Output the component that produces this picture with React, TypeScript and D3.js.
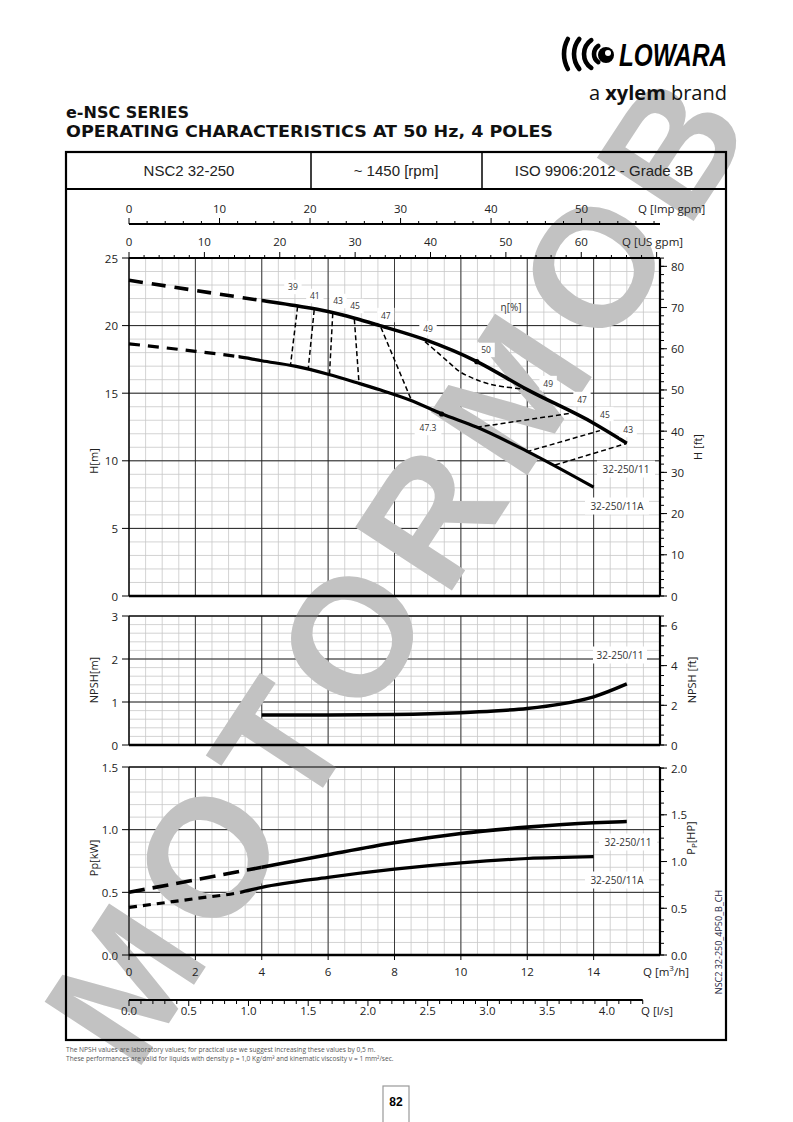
import React from "react";
import * as d3 from "d3";

// ---------------- data ----------------
const impGpmTicks = [0, 10, 20, 30, 40, 50];
const usGpmTicks = [0, 10, 20, 30, 40, 50, 60];
const m3hTicks = [0, 2, 4, 6, 8, 10, 12, 14];
const lsTicks = [0, 0.5, 1, 1.5, 2, 2.5, 3, 3.5, 4];
const headTicks = [0, 5, 10, 15, 20, 25];
const headFtTicks = [0, 10, 20, 30, 40, 50, 60, 70, 80];
const npshTicks = [0, 1, 2, 3];
const npshFtTicks = [0, 2, 4, 6];
const powerTicks = [0, 0.5, 1.0, 1.5];
const powerHpTicks = [0, 0.5, 1.0, 1.5, 2.0];

// Head curves (Q m3/h, H m)
const headQ11 = [0, 2, 4, 5, 6, 6.8, 7.56, 8.92, 10.47, 12, 14, 15];
const headH11 = [23.35, 22.6, 21.85, 21.48, 21.05, 20.55, 20.0, 18.96, 17.36, 15.26, 12.78, 11.3];
const headDash11 = 4;
const headQ11A = [0, 2, 3.3, 4, 5, 6, 6.9, 7.56, 8.46, 9.42, 10.47, 12, 14];
const headH11A = [18.65, 18.1, 17.7, 17.4, 17.0, 16.4, 15.75, 15.25, 14.5, 13.48, 12.5, 10.7, 8.05];
const headDash11A = 3.3;

// Efficiency iso-lines
const effLines = [
  { q: [5.08, 4.87], h: [21.4, 17.16] },
  { q: [5.58, 5.4], h: [21.15, 16.79] },
  { q: [6.14, 6.04], h: [20.91, 16.35] },
  { q: [6.79, 6.93], h: [20.47, 15.78] },
  { q: [7.59, 8.52], h: [19.87, 14.42] },
  { q: [8.92, 9.27, 9.67, 9.97, 10.37, 10.78, 11.28, 11.98], h: [18.81, 18.07, 17.21, 16.59, 16.1, 15.73, 15.48, 15.29] },
  { q: [10.48, 13.29], h: [12.48, 13.51] },
  { q: [11.98, 14.19], h: [10.67, 12.23] },
  { q: [12.84, 15.0], h: [9.69, 11.29] },
];
const effLabelText = ["39", "41", "43", "45", "47", "49", "50", "49", "47", "45", "43", "47.3"];
const effLabelQ = [4.94, 5.6, 6.3, 6.81, 7.74, 9.01, 10.76, 12.63, 13.65, 14.34, 15.04, 9.01];
const effLabelH = [22.86, 22.19, 21.82, 21.45, 20.78, 19.82, 18.2, 15.75, 14.57, 13.46, 12.28, 12.43];
const bepQ = [10.48, 9.42];
const bepH = [17.33, 13.46];

// NPSH
const npshQ = [4, 6, 8, 10, 11, 12, 13, 14, 15];
const npshM = [0.7, 0.7, 0.71, 0.75, 0.79, 0.85, 0.95, 1.12, 1.42];

// Power
const powQ11 = [0, 2, 4, 6, 8, 10, 12, 14, 15];
const powP11 = [0.5, 0.6, 0.7, 0.8, 0.895, 0.97, 1.02, 1.055, 1.065];
const powDash11 = 4;
const powQ11A = [0, 2, 3.35, 4, 6, 8, 10, 12, 14];
const powP11A = [0.38, 0.45, 0.5, 0.54, 0.62, 0.685, 0.735, 0.77, 0.785];
const powDash11A = 3.35;

// ---------------- scales ----------------
const X0 = 129, X1 = 660;
const x = d3.scaleLinear().domain([0, 16]).range([X0, X1]);
const xImp = d3.scaleLinear().domain([0, 16 * 3.6662]).range([X0, X1]);
const xUS = d3.scaleLinear().domain([0, 16 * 4.4029]).range([X0, X1]);
const xLs = d3.scaleLinear().domain([0, 16 / 3.6]).range([X0, X1]);
const yH = d3.scaleLinear().domain([0, 25]).range([596, 258]);
const yHft = d3.scaleLinear().domain([0, 25 / 0.3048]).range([596, 258]);
const yN = d3.scaleLinear().domain([0, 3]).range([745, 616]);
const yNft = d3.scaleLinear().domain([0, 6.5]).range([745, 616]);
const yP = d3.scaleLinear().domain([0, 1.5]).range([955, 767]);
const yPhp = d3.scaleLinear().domain([0, 1.5 * 1.341]).range([955, 767]);

const AX = "'Open Sans', 'Noto Sans', sans-serif";
const TXT = "#222";

function zip(q: number[], v: number[]): [number, number][] {
  return q.map((d, i) => [d, v[i]]);
}

function Grid({ ys, dom, minor, major }: any) {
  const vMinor = d3.range(0, 16.001, 0.5);
  const vMajor = d3.range(0, 16.001, 2);
  const hMinor = d3.range(dom[0], dom[1] + 1e-6, minor);
  const hMajor = d3.range(dom[0], dom[1] + 1e-6, major);
  const yt = ys(dom[1]), yb = ys(dom[0]);
  return (
    <g>
      {vMinor.map((q, i) => (
        <line key={"vm" + i} x1={x(q)} x2={x(q)} y1={yt} y2={yb} stroke="#c8c8c8" strokeWidth={0.8} />
      ))}
      {hMinor.map((v, i) => (
        <line key={"hm" + i} x1={X0} x2={X1} y1={ys(v)} y2={ys(v)} stroke="#c8c8c8" strokeWidth={0.8} />
      ))}
      {vMajor.map((q, i) => (
        <line key={"vM" + i} x1={x(q)} x2={x(q)} y1={yt} y2={yb} stroke="#3a3a3a" strokeWidth={1} />
      ))}
      {hMajor.map((v, i) => (
        <line key={"hM" + i} x1={X0} x2={X1} y1={ys(v)} y2={ys(v)} stroke="#222" strokeWidth={1} />
      ))}
    </g>
  );
}

function LeftAxis({ ys, ticks, fmt, title, ty }: any) {
  return (
    <g fontFamily={AX} fontSize={11.5} fill={TXT}>
      <line x1={X0} x2={X0} y1={ys(ticks[ticks.length - 1])} y2={ys(ticks[0])} stroke="#000" strokeWidth={1.2} />
      {ticks.map((t: number, i: number) => (
        <g key={i}>
          <line x1={X0 - 7} x2={X0} y1={ys(t)} y2={ys(t)} stroke="#000" strokeWidth={1} />
          <text x={X0 - 11} y={ys(t)} textAnchor="end" dominantBaseline="central">{fmt(t)}</text>
        </g>
      ))}
      <text transform={`translate(93,${ty}) rotate(-90)`} textAnchor="middle" dominantBaseline="central" fontSize={11}>{title}</text>
    </g>
  );
}

function RightAxis({ ys, ticks, minor, fmt, children }: any) {
  const d = ys.domain();
  const minors = d3.range(0, d[1] + 1e-6, minor);
  return (
    <g fontFamily={AX} fontSize={11.5} fill={TXT}>
      <line x1={X1} x2={X1} y1={ys.range()[1]} y2={ys.range()[0]} stroke="#000" strokeWidth={2.2} />
      {minors.map((t: number, i: number) => (
        <line key={"m" + i} x1={X1} x2={X1 + 4} y1={ys(t)} y2={ys(t)} stroke="#000" strokeWidth={1} />
      ))}
      {ticks.map((t: number, i: number) => (
        <g key={i}>
          <line x1={X1} x2={X1 + 7} y1={ys(t)} y2={ys(t)} stroke="#000" strokeWidth={1} />
          <text x={X1 + 11} y={ys(t)} dominantBaseline="central">{fmt(t)}</text>
        </g>
      ))}
      {children}
    </g>
  );
}

function SplitCurve({ id, pts, ys, split, width, dash }: any) {
  const gen = d3.line<[number, number]>().x((d) => x(d[0])).y((d) => ys(d[1])).curve(d3.curveMonotoneX);
  const p = gen(pts) || "";
  return (
    <g>
      <defs>
        <clipPath id={id + "a"}><rect x={0} y={0} width={x(split)} height={1122} /></clipPath>
        <clipPath id={id + "b"}><rect x={x(split)} y={0} width={800} height={1122} /></clipPath>
      </defs>
      <path d={p} fill="none" stroke="#000" strokeWidth={width} strokeDasharray={dash} clipPath={`url(#${id}a)`} />
      <path d={p} fill="none" stroke="#000" strokeWidth={width} clipPath={`url(#${id}b)`} />
    </g>
  );
}

function BoxLabel({ cx, cy, text, fs, w }: any) {
  const bw = w ?? text.length * fs * 0.55 + 8;
  return (
    <g>
      <rect x={cx - bw / 2} y={cy - fs * 0.85} width={bw} height={fs * 1.7} fill="#fff" />
      <text x={cx} y={cy} textAnchor="middle" dominantBaseline="central" fontFamily={AX} fontSize={fs} fill="#333">{text}</text>
    </g>
  );
}

export default function App() {
  const lineGen = (ys: any) =>
    d3.line<[number, number]>().x((d) => x(d[0])).y((d) => ys(d[1])).curve(d3.curveCatmullRom);

  const impMinor = d3.range(0, 58.7, 2);
  const usMinor = d3.range(0, 70.5, 2);
  const lsMinor = d3.range(0, 4.301, 0.1);
  const logoR = [10, 17, 24, 31];

  return (
    <svg width={793} height={1122} viewBox="0 0 793 1122" style={{ position: "absolute", left: 0, top: 0, background: "#fff" }}>
      <rect width={793} height={1122} fill="#fff" />

      {/* Grids */}
      <Grid ys={yH} dom={[0, 25]} minor={1} major={5} />
      <Grid ys={yN} dom={[0, 3]} minor={0.2} major={1} />
      <Grid ys={yP} dom={[0, 1.5]} minor={0.1} major={0.5} />

      {/* Watermark */}
      <text transform="translate(396,570) rotate(-56.8)" textAnchor="middle" dominantBaseline="central"
        fontFamily="'Liberation Sans', Arial, sans-serif" fontWeight="bold" fontSize={168}
        fill="#c2c2c2" textLength={1130} lengthAdjust="spacing">MOTORMOB</text>

      {/* Logo */}
      <g>
        {logoR.map((r, i) => {
          const cx = 604 - i * 3;
          const span = Math.min(55, (Math.asin(Math.min(1, 15 / r)) * 180) / Math.PI);
          const a1 = ((180 + span) * Math.PI) / 180, a2 = ((180 - span) * Math.PI) / 180;
          return (
            <path key={i}
              d={`M${cx + r * Math.cos(a1)},${54 + r * Math.sin(a1)} A${r},${r} 0 0 0 ${cx + r * Math.cos(a2)},${54 + r * Math.sin(a2)}`}
              fill="none" stroke="#000" strokeWidth={4.6} strokeLinecap="round" />
          );
        })}
        <circle cx={606} cy={55} r={8} fill="#000" />
        <circle cx={608} cy={53} r={3} fill="#fff" />
        <text x={727} y={66} textAnchor="end" fontFamily="'Liberation Sans', Arial, sans-serif" fontWeight="bold" fontStyle="italic" fontSize={31} textLength={108} lengthAdjust="spacingAndGlyphs">LOWARA</text>
        <text x={727} y={100} textAnchor="end" fontFamily="'Open Sans', sans-serif" fontSize={20} fill="#111">
          a <tspan fontWeight="bold">xylem</tspan> brand
        </text>
      </g>

      {/* Titles */}
      <g fontFamily="'DejaVu Sans', Verdana, sans-serif" fontWeight="bold" fontSize={16} fill="#111">
        <text x={66} y={118}>e-NSC SERIES</text>
        <text x={66} y={137} textLength={487} lengthAdjust="spacingAndGlyphs">OPERATING CHARACTERISTICS AT 50 Hz, 4 POLES</text>
      </g>

      {/* Frame & header */}
      <rect x={66} y={152} width={660} height={888} fill="none" stroke="#000" strokeWidth={2.2} />
      <line x1={66} x2={726} y1={189} y2={189} stroke="#000" strokeWidth={2} />
      <line x1={311} x2={311} y1={152} y2={189} stroke="#000" strokeWidth={1.5} />
      <line x1={482} x2={482} y1={152} y2={189} stroke="#000" strokeWidth={1.5} />
      <g fontFamily="'Liberation Sans', Arial, sans-serif" fontSize={15} fill="#222" textAnchor="middle">
        <text x={189} y={176}>NSC2 32-250</text>
        <text x={396} y={176}>~ 1450 [rpm]</text>
        <text x={604} y={176}>ISO 9906:2012 - Grade 3B</text>
      </g>

      {/* Top axes */}
      <g fontFamily={AX} fontSize={11.5} fill={TXT}>
        <line x1={X0} x2={X1} y1={224} y2={224} stroke="#000" strokeWidth={2} />
        {impMinor.map((t, i) => (
          <line key={i} x1={xImp(t)} x2={xImp(t)} y1={224} y2={t % 10 === 0 ? 218 : 221} stroke="#000" strokeWidth={1} />
        ))}
        {impGpmTicks.map((t, i) => (
          <text key={i} x={xImp(t)} y={208} textAnchor="middle" dominantBaseline="central">{t}</text>
        ))}
        <text x={638} y={208} dominantBaseline="central">Q [Imp gpm]</text>
        <line x1={X0} x2={X1} y1={258} y2={258} stroke="#000" strokeWidth={2.2} />
        {usMinor.map((t, i) => (
          <line key={i} x1={xUS(t)} x2={xUS(t)} y1={258} y2={t % 10 === 0 ? 252 : 255} stroke="#000" strokeWidth={1} />
        ))}
        {usGpmTicks.map((t, i) => (
          <text key={i} x={xUS(t)} y={241} textAnchor="middle" dominantBaseline="central">{t}</text>
        ))}
        <text x={622} y={241} dominantBaseline="central">Q [US gpm]</text>
      </g>

      {/* Panel borders */}
      <line x1={X0} x2={X1} y1={596} y2={596} stroke="#000" strokeWidth={2.5} />
      <line x1={X0} x2={X1} y1={616} y2={616} stroke="#000" strokeWidth={1.2} />
      <line x1={X0} x2={X1} y1={745} y2={745} stroke="#000" strokeWidth={2.5} />
      <line x1={X0} x2={X1} y1={767} y2={767} stroke="#000" strokeWidth={1.2} />
      <line x1={X0} x2={X1} y1={955} y2={955} stroke="#000" strokeWidth={2.5} />

      {/* Left axes */}
      <LeftAxis ys={yH} ticks={headTicks} fmt={(t: number) => String(t)} title="H[m]" ty={461} />
      <LeftAxis ys={yN} ticks={npshTicks} fmt={(t: number) => String(t)} title="NPSH[m]" ty={680} />
      <LeftAxis ys={yP} ticks={powerTicks} fmt={(t: number) => t.toFixed(1)} title="Pp[kW]" ty={858} />

      {/* Right axes */}
      <RightAxis ys={yHft} ticks={headFtTicks} minor={2} fmt={(t: number) => String(t)}>
        <text transform="translate(697,447) rotate(-90)" textAnchor="middle" dominantBaseline="central" fontSize={11}>H [ft]</text>
      </RightAxis>
      <RightAxis ys={yNft} ticks={npshFtTicks} minor={0.5} fmt={(t: number) => String(t)}>
        <text transform="translate(691,680) rotate(-90)" textAnchor="middle" dominantBaseline="central" fontSize={11}>NPSH [ft]</text>
      </RightAxis>
      <RightAxis ys={yPhp} ticks={powerHpTicks} minor={0.125} fmt={(t: number) => t.toFixed(1)}>
        <text transform="translate(690,838) rotate(-90)" textAnchor="middle" dominantBaseline="central" fontSize={11}>
          P<tspan fontSize={8} dy={3}>P</tspan><tspan dy={-3}>[HP]</tspan>
        </text>
      </RightAxis>

      {/* Bottom axes */}
      <g fontFamily={AX} fontSize={11.5} fill={TXT}>
        {m3hTicks.map((t, i) => (
          <g key={i}>
            <line x1={x(t)} x2={x(t)} y1={955} y2={960} stroke="#000" strokeWidth={1} />
            <text x={x(t)} y={971} textAnchor="middle" dominantBaseline="central">{t}</text>
          </g>
        ))}
        <text x={643} y={971} dominantBaseline="central">Q [m<tspan fontSize={8} dy={-4}>3</tspan><tspan dy={4}>/h]</tspan></text>
        <line x1={X0} x2={xLs(4.3)} y1={1000} y2={1000} stroke="#000" strokeWidth={2} />
        {lsMinor.map((t, i) => (
          <line key={i} x1={xLs(t)} x2={xLs(t)} y1={1000} y2={Math.abs(t * 2 - Math.round(t * 2)) < 1e-6 ? 1006 : 1004} stroke="#000" strokeWidth={1} />
        ))}
        {lsTicks.map((t, i) => (
          <text key={i} x={xLs(t)} y={1010} textAnchor="middle" dominantBaseline="central">{t.toFixed(1)}</text>
        ))}
        <text x={641} y={1010} dominantBaseline="central">Q [l/s]</text>
      </g>

      {/* Efficiency iso-lines */}
      <g>
        {effLines.map((e, i) => (
          <path key={i} d={lineGen(yH)(zip(e.q, e.h)) || ""} fill="none" stroke="#000" strokeWidth={1.5} strokeDasharray="5,3" />
        ))}
      </g>

      {/* Head curves */}
      <SplitCurve id="h11" pts={zip(headQ11, headH11)} ys={yH} split={headDash11} width={3.6} dash="14,9" />
      <SplitCurve id="h11a" pts={zip(headQ11A, headH11A)} ys={yH} split={headDash11A} width={3.2} dash="11,8" />
      {bepQ.map((q, i) => (
        <circle key={i} cx={x(q)} cy={yH(bepH[i])} r={2.6} fill="#000" />
      ))}

      {/* Efficiency labels */}
      {effLabelText.map((t, i) => (
        <BoxLabel key={i} cx={x(effLabelQ[i])} cy={yH(effLabelH[i])} text={t} fs={8.5} />
      ))}
      <text x={511} y={307} textAnchor="middle" dominantBaseline="central" fontFamily={AX} fontSize={10} fill="#333">η[%]</text>
      <BoxLabel cx={626} cy={469} text="32-250/11" fs={10} w={58} />
      <BoxLabel cx={617} cy={506} text="32-250/11A" fs={10} w={64} />

      {/* NPSH */}
      <path d={d3.line<[number, number]>().x((d) => x(d[0])).y((d) => yN(d[1])).curve(d3.curveMonotoneX)(zip(npshQ, npshM)) || ""} fill="none" stroke="#000" strokeWidth={3.5} />
      <BoxLabel cx={620} cy={655} text="32-250/11" fs={10} w={54} />

      {/* Power */}
      <SplitCurve id="p11" pts={zip(powQ11, powP11)} ys={yP} split={powDash11} width={3.6} dash="16,8" />
      <SplitCurve id="p11a" pts={zip(powQ11A, powP11A)} ys={yP} split={powDash11A} width={3.2} dash="8,6" />
      <BoxLabel cx={628} cy={842} text="32-250/11" fs={10} w={58} />
      <BoxLabel cx={617} cy={880} text="32-250/11A" fs={10} w={64} />

      {/* code text */}
      <text transform="translate(718,942) rotate(-90)" textAnchor="middle" dominantBaseline="central" fontFamily={AX} fontSize={9} fill="#1c2540">NSC2 32-250_4P50_B_CH</text>

      {/* Footer */}
      <g fontFamily={AX} fontSize={6.6} fill="#555">
        <text x={66} y={1052}>The NPSH values are laboratory values; for practical use we suggest increasing these values by 0,5 m.</text>
        <text x={66} y={1061}>These performances are valid for liquids with density ρ = 1,0 Kg/dm³ and kinematic viscosity ν = 1 mm²/sec.</text>
      </g>
      <rect x={383} y={1086} width={26} height={45} fill="#fff" stroke="#999" strokeWidth={1.2} />
      <text x={396} y={1102} textAnchor="middle" dominantBaseline="central" fontFamily="'Liberation Sans', Arial, sans-serif" fontWeight="bold" fontSize={12}>82</text>
    </svg>
  );
}
